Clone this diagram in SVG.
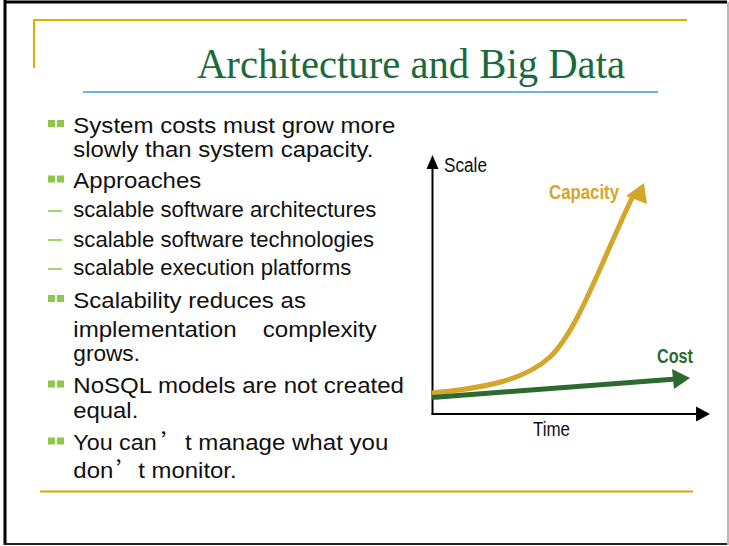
<svg xmlns="http://www.w3.org/2000/svg" width="729" height="546" viewBox="0 0 729 546">
<style>
.b{font-family:"Liberation Sans",Arial,sans-serif;font-size:22.5px;fill:#111}
.q{font-family:"Noto Sans CJK SC","Liberation Sans",sans-serif;font-size:22px;fill:#111}
.sq{fill:#8fc74a}
.dash{stroke:#8fc74a;stroke-width:1.6}
.gold{stroke:#e0ac00;stroke-width:2;fill:none}
.ax{font-family:"Liberation Sans",Arial,sans-serif;font-size:20px;fill:#111}
.lb{font-family:"Liberation Sans",Arial,sans-serif;font-size:20px;font-weight:bold}
</style>
<rect width="729" height="546" fill="#fff"/>
<g id="frame">
<line x1="4" y1="2" x2="727" y2="2" stroke="#000" stroke-width="3"/>
<line x1="5" y1="0" x2="5" y2="545" stroke="#000" stroke-width="3"/>
<line x1="4" y1="544" x2="727" y2="544" stroke="#222" stroke-width="2"/>
<line x1="728" y1="2" x2="728" y2="545" stroke="#b8b8b8" stroke-width="2"/>
<polyline class="gold" points="34,68 34,20 687,20"/>
<line x1="40" y1="491.5" x2="693" y2="491.5" stroke="#d9a800" stroke-width="2"/>
</g>
<g id="title">
<text x="197" y="78" font-family="'Liberation Serif','Times New Roman',serif" font-size="42" fill="#1b6b3a" textLength="428" lengthAdjust="spacingAndGlyphs">Architecture and Big Data</text>
<line x1="83" y1="92" x2="658" y2="92" stroke="#6cb2ea" stroke-width="2.2"/>
</g>
<g id="bullets">
<rect class="sq" x="48" y="120" width="7" height="7"/><rect class="sq" x="57" y="120" width="7" height="7"/>
<text class="b" x="73.3" y="132.5" textLength="322" lengthAdjust="spacingAndGlyphs">System costs must grow more</text>
<text class="b" x="73.3" y="156.5" textLength="300" lengthAdjust="spacingAndGlyphs">slowly than system capacity.</text>
<rect class="sq" x="48" y="175.5" width="7" height="7"/><rect class="sq" x="57" y="175.5" width="7" height="7"/>
<text class="b" x="73.3" y="188" textLength="128" lengthAdjust="spacingAndGlyphs">Approaches</text>
<line class="dash" x1="48" y1="211" x2="62" y2="211"/>
<text class="b" x="73.3" y="217" textLength="303" lengthAdjust="spacingAndGlyphs">scalable software architectures</text>
<line class="dash" x1="48" y1="240" x2="62" y2="240"/>
<text class="b" x="73.3" y="246.5" textLength="300.7" lengthAdjust="spacingAndGlyphs">scalable software technologies</text>
<line class="dash" x1="48" y1="269" x2="62" y2="269"/>
<text class="b" x="73.3" y="275" textLength="278" lengthAdjust="spacingAndGlyphs">scalable execution platforms</text>
<rect class="sq" x="48" y="295" width="7" height="7"/><rect class="sq" x="57" y="295" width="7" height="7"/>
<text class="b" x="73.3" y="307.5" textLength="232.7" lengthAdjust="spacingAndGlyphs">Scalability reduces as</text>
<text class="b" x="73.3" y="336.5" textLength="163.3" lengthAdjust="spacingAndGlyphs">implementation</text>
<text class="b" x="262.7" y="336.5" textLength="114" lengthAdjust="spacingAndGlyphs">complexity</text>
<text class="b" x="73.3" y="361" textLength="66.7" lengthAdjust="spacingAndGlyphs">grows.</text>
<rect class="sq" x="48" y="380.5" width="7" height="7"/><rect class="sq" x="57" y="380.5" width="7" height="7"/>
<text class="b" x="73.3" y="393" textLength="330.7" lengthAdjust="spacingAndGlyphs">NoSQL models are not created</text>
<text class="b" x="73.3" y="418" textLength="65" lengthAdjust="spacingAndGlyphs">equal.</text>
<rect class="sq" x="48" y="437.5" width="7" height="7"/><rect class="sq" x="57" y="437.5" width="7" height="7"/>
<text class="b" x="73.3" y="450" textLength="83.4" lengthAdjust="spacingAndGlyphs">You can</text>
<text class="q" x="161" y="450">’</text>
<text class="b" x="185" y="450" textLength="203.3" lengthAdjust="spacingAndGlyphs">t manage what you</text>
<text class="b" x="73.3" y="478" textLength="40" lengthAdjust="spacingAndGlyphs">don</text>
<text class="q" x="116" y="478">’</text>
<text class="b" x="138.3" y="478" textLength="98.3" lengthAdjust="spacingAndGlyphs">t monitor.</text>
</g>
<g id="chart">
<g id="axes">
<line x1="432.5" y1="165" x2="432.5" y2="414.5" stroke="#000" stroke-width="2"/>
<polygon points="432.5,155 426.5,169 438.5,169" fill="#000"/>
<line x1="431.5" y1="414" x2="698" y2="414" stroke="#000" stroke-width="2"/>
<polygon points="710,414 696,406.5 696,421.5" fill="#000"/>
<text class="ax" x="444" y="171.5" textLength="43" lengthAdjust="spacingAndGlyphs">Scale</text>
<text class="ax" x="533" y="436" textLength="37" lengthAdjust="spacingAndGlyphs">Time</text>
</g>
<g id="capacity">
<path d="M432,393 C485,388 525,380 550,357 C578,330 600,265 632,198" fill="none" stroke="#d4a62a" stroke-width="5"/>
<polygon points="644,183 626,196 647,204" fill="#d4a62a"/>
<text class="lb" x="549" y="199" fill="#d4a62a" textLength="70" lengthAdjust="spacingAndGlyphs">Capacity</text>
</g>
<g id="cost">
<line x1="432" y1="397.5" x2="676" y2="379" stroke="#2d6a2f" stroke-width="5"/>
<polygon points="690,378 672,369 674,389" fill="#2d6a2f"/>
<text class="lb" x="657" y="362.5" fill="#2d6a2f" textLength="36" lengthAdjust="spacingAndGlyphs">Cost</text>
</g>
</g>
</svg>
